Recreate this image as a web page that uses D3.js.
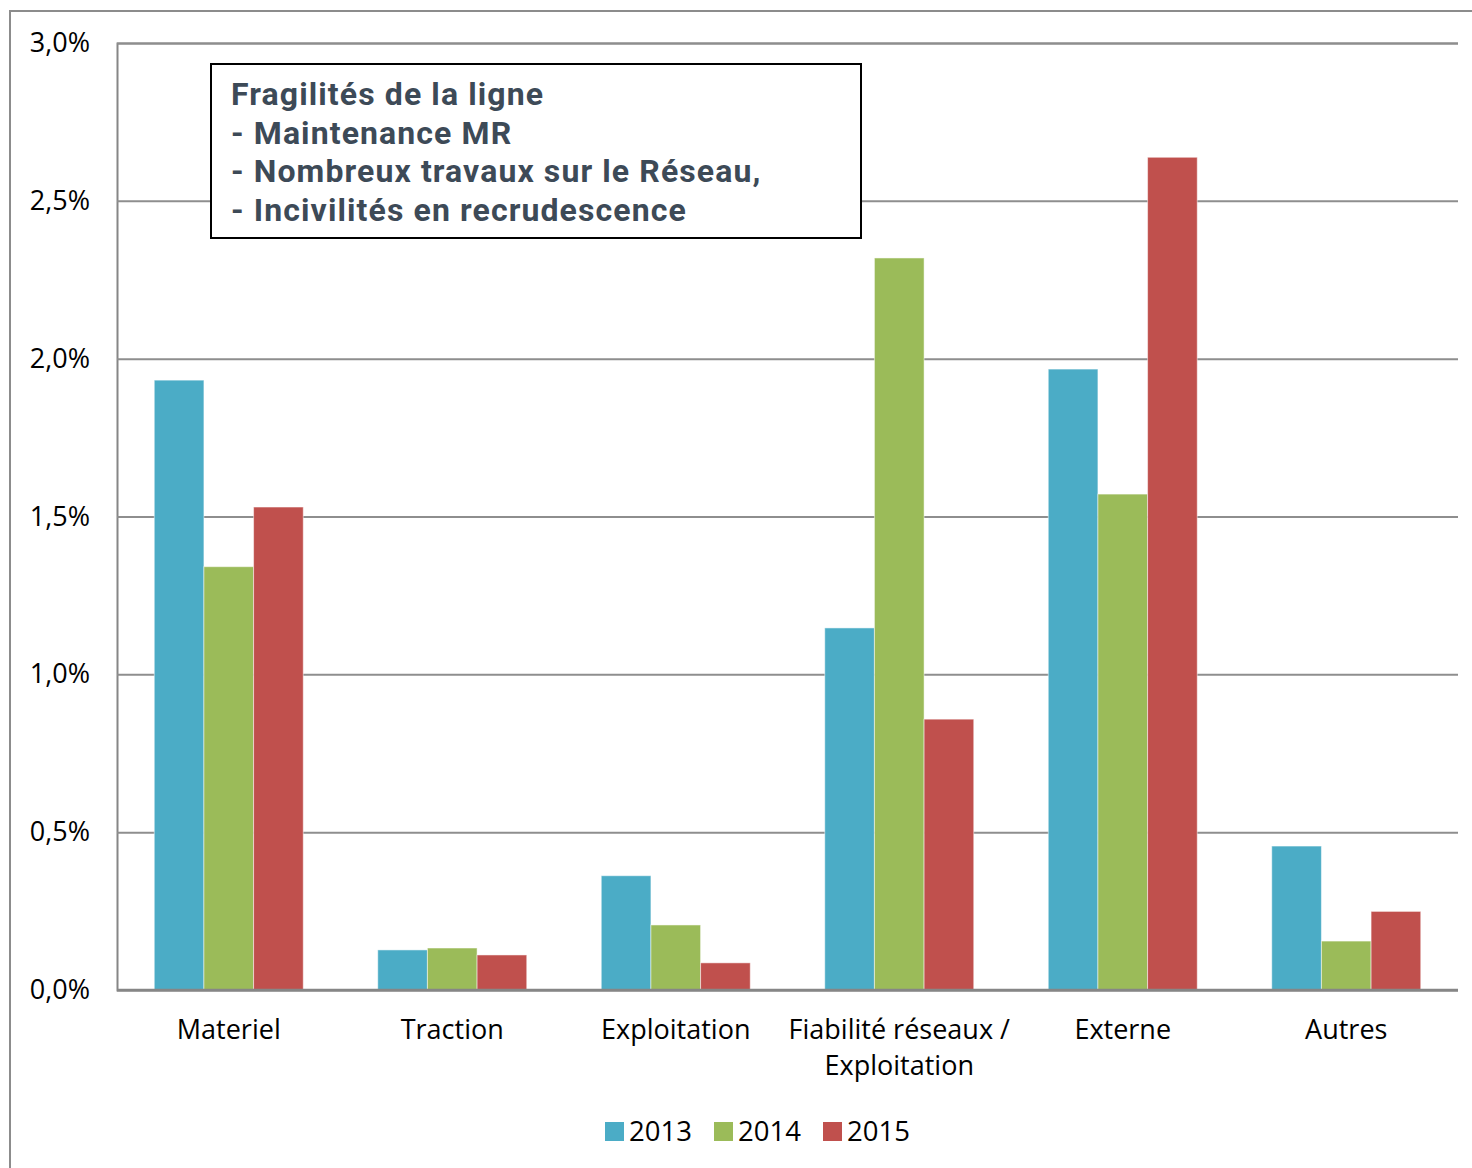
<!DOCTYPE html>
<html><head><meta charset="utf-8">
<script src="https://cdn.jsdelivr.net/npm/d3@7"></script>
<style>body{margin:0;background:#fff}svg{display:block}</style>
</head><body>
<script>
const categories = [["Materiel"],["Traction"],["Exploitation"],["Fiabilité réseaux /","Exploitation"],["Externe"],["Autres"]];
const seriesNames = ["2013","2014","2015"];
const values2013 = [1.932, 0.127, 0.362, 1.147, 1.967, 0.456];
const values2014 = [1.341, 0.133, 0.206, 2.319, 1.571, 0.155];
const values2015 = [1.530, 0.111, 0.086, 0.858, 2.638, 0.249];
const colors = ["#4BACC6","#9BBB59","#C0504D"];
const yTicks = [0,0.5,1,1.5,2,2.5,3];
const annotation = ["Fragilités de la ligne","- Maintenance MR","- Nombreux travaux sur le Réseau,","- Incivilités en recrudescence"];

const W=1472,H=1168;
const svg=d3.select("body").append("svg").attr("width",W).attr("height",H);
const font="'Open Sans', Carlito, Calibri, Lato, sans-serif";
// outer frame
svg.append("rect").attr("x",10).attr("y",11).attr("width",W).attr("height",H).attr("fill","none").attr("stroke","#8c8c8c").attr("stroke-width",2);

const mL=117,mR=1458,mT=43,mB=990;
const x0=d3.scaleBand().domain(d3.range(categories.length)).range([mL,mR]).paddingInner(1/3).paddingOuter(1/6);
const x1=d3.scaleBand().domain(d3.range(3)).range([0,x0.bandwidth()]);
const y=d3.scaleLinear().domain([0,3]).range([mB,mT]);

// gridlines
const yAxis=d3.axisLeft(y).tickValues(yTicks).tickSize(-(mR-mL)).tickFormat(d=>d3.format(".1f")(d).replace(".",",")+"%");
const gy=svg.append("g").attr("transform",`translate(${mL},0)`).call(yAxis);
gy.select(".domain").attr("stroke","#868686").attr("stroke-width",2);
gy.selectAll(".tick line").attr("stroke","#8e8e8e").attr("stroke-width",2);
gy.selectAll(".tick text").attr("x",-27).attr("font-size",27).attr("font-family",font).attr("fill","#000");

const series=[values2013,values2014,values2015];
categories.forEach((c,i)=>{
  series.forEach((vals,s)=>{
    svg.append("rect").attr("x",x0(i)+x1(s)).attr("y",y(vals[i])).attr("width",x1.bandwidth()).attr("height",y(0)-y(vals[i]))
      .attr("fill",colors[s]).attr("stroke","rgba(255,255,255,0.5)").attr("stroke-width",1);
  });
});
// x axis baseline
svg.append("line").attr("x1",mL).attr("x2",mR).attr("y1",mB).attr("y2",mB).attr("stroke","#868686").attr("stroke-width",2.5);

// x labels
const xAxis=d3.axisBottom(x0).tickSize(0).tickFormat("");
const gx=svg.append("g").attr("transform",`translate(0,${mB})`).call(xAxis);
gx.select(".domain").remove();
gx.selectAll(".tick").each(function(d){
  const t=d3.select(this).append("text").attr("fill","#000").attr("font-size",27).attr("font-family",font).attr("text-anchor","middle");
  categories[d].forEach((ln,k)=>t.append("tspan").attr("x",0).attr("y",49+k*36).text(ln));
});

// legend
const lg=svg.append("g");
const legX=[605,714,823];
seriesNames.forEach((n,s)=>{
  lg.append("rect").attr("x",legX[s]).attr("y",1122).attr("width",19).attr("height",19).attr("fill",colors[s]);
  lg.append("text").attr("x",legX[s]+24).attr("y",1141).attr("font-size",27.5).attr("font-family",font).attr("fill","#000").text(n);
});

// annotation box
svg.append("rect").attr("x",211).attr("y",64).attr("width",650).attr("height",174).attr("fill","#fff").attr("stroke","#000").attr("stroke-width",2);
const at=svg.append("text").attr("font-family","Roboto,sans-serif").attr("font-weight","bold").attr("font-size",32).attr("letter-spacing",1.1).attr("fill","#3d4a57");
annotation.forEach((ln,k)=>at.append("tspan").attr("x",231).attr("y",105+k*38.5).text(ln));
</script>
</body></html>
